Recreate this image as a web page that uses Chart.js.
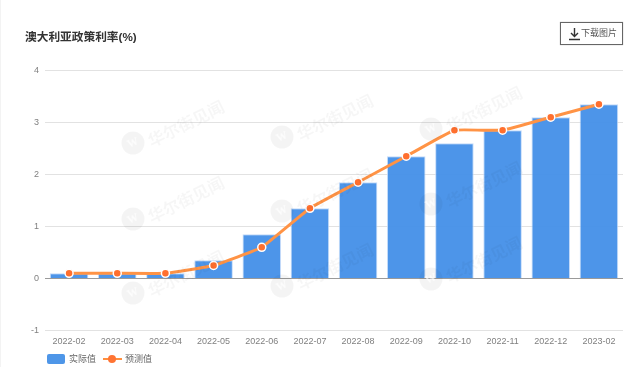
<!DOCTYPE html>
<html><head><meta charset="utf-8">
<script src="https://cdn.jsdelivr.net/npm/chart.js@4"></script>
<style>
html,body{margin:0;padding:0;background:#fff;overflow:hidden}
#wrap{position:relative;width:641px;height:367px;font-family:"Liberation Sans","Noto Sans CJK SC",sans-serif;filter:blur(0.35px)}
#edge{position:absolute;left:0;top:0;width:1px;height:367px;background:#f3f3f3}
canvas{position:absolute;left:0;top:0}
#btn{position:absolute;left:560px;top:22px;width:63px;height:23px;border:1px solid #666;box-sizing:border-box;box-shadow:0 0 1px #aaa;color:#555;font-size:9px;line-height:21px;padding-left:20px;white-space:nowrap}
#btn svg{position:absolute;left:7px;top:4px}
.lg{position:absolute;top:354px;font-size:9px;line-height:11px;color:#666;white-space:nowrap}
#sw1{position:absolute;left:47px;top:354px;width:18px;height:10px;border-radius:2px;background:#4e96e8}
#sw2{position:absolute;left:103px;top:358px;width:19px;height:2px;background:#ff8f3f}
#sw3{position:absolute;left:108px;top:355px;width:8px;height:8px;border-radius:50%;background:#ff7433}
</style></head><body>
<div id="wrap">
<canvas id="c" width="641" height="367"></canvas>
<div id="edge"></div>
<div id="btn"><svg width="13" height="14" viewBox="0 0 13 14"><path d="M6.5 1V9M3 6l3.5 3.5L10 6M1 12.5h11" fill="none" stroke="#333" stroke-width="1.4"/></svg>下载图片</div>
<div id="sw1"></div><div class="lg" style="left:69px">实际值</div>
<div id="sw2"></div><div id="sw3"></div><div class="lg" style="left:125px">预测值</div>
</div>
<script>
const categories=["2022-02","2022-03","2022-04","2022-05","2022-06","2022-07","2022-08","2022-09","2022-10","2022-11","2022-12","2023-02"];
const actualValues=[0.1,0.1,0.1,0.35,0.85,1.35,1.85,2.35,2.6,2.85,3.1,3.35];
const forecastValues=[0.1,0.1,0.1,0.25,0.6,1.35,1.85,2.35,2.85,2.85,3.1,3.35];
const yTicks=[4,3,2,1,0,-1];
const titleText="澳大利亚政策利率(%)";
const watermarkText="华尔街见闻";
const watermarkSpots=[[133,143],[282,137],[431,129],[133,219],[282,211],[431,204],[133,293],[282,286],[431,279]];

const watermark={id:"watermark",afterDatasetsDraw(chart){
  const g=chart.ctx;
  for(const [x,y] of watermarkSpots){
    g.save();
    g.fillStyle="rgba(0,0,0,0.045)";
    g.beginPath();g.arc(x,y,11.5,0,Math.PI*2);g.fill();
    g.fillStyle="rgba(255,255,255,0.7)";
    g.font="bold 11px 'Liberation Serif'";g.textAlign="center";g.textBaseline="middle";
    g.translate(x,y);g.rotate(-0.4);g.fillText("W",0,0);g.restore();
    g.save();
    g.translate(x+16,y-1);g.rotate(-0.46);
    g.fillStyle="rgba(0,0,0,0.035)";
    g.font="bold 16.5px 'Noto Sans CJK SC'";g.textAlign="left";g.textBaseline="middle";
    g.fillText(watermarkText,0,0);g.restore();
  }
}};

new Chart(document.getElementById("c"),{
  data:{labels:categories,datasets:[
    {type:"bar",label:"实际值",data:actualValues,order:2,backgroundColor:"rgba(70,145,232,0.96)",borderColor:"rgba(190,215,248,0.9)",borderWidth:1,categoryPercentage:0.8,barPercentage:1},
    {type:"line",label:"预测值",data:forecastValues,order:1,borderColor:"#ff9345",borderWidth:3,tension:0.1,pointRadius:4,pointBorderWidth:1.5,pointBackgroundColor:"#ff6f2e",pointBorderColor:"#ffffff"}
  ]},
  options:{
    responsive:false,animation:false,
    layout:{padding:{left:25,right:18,top:0,bottom:0}},
    plugins:{
      legend:{display:false},tooltip:{enabled:false},
      title:{display:true,text:titleText,align:"start",color:"#333",font:{family:"'Liberation Sans','Noto Sans CJK SC'",size:11.7,weight:"bold"},padding:{top:31,bottom:25.4}}
    },
    scales:{
      x:{offset:true,grid:{display:false,drawTicks:false},border:{display:false},
        afterFit(s){s.height=36.5},
        ticks:{color:"#808080",font:{family:"'Liberation Sans'",size:9},padding:6,maxRotation:0,autoSkip:false}},
      y:{min:-1,max:4,border:{display:false},
        afterFit(s){s.width=20},
        afterBuildTicks(s){s.ticks=yTicks.map(v=>({value:v}))},
        grid:{drawTicks:false,lineWidth:1,color:c=>c.tick&&c.tick.value===0?"#9a9a9a":"#e2e2e2"},
        ticks:{color:"#808080",font:{family:"'Liberation Sans'",size:9},padding:6}}
    }
  },
  plugins:[watermark]
});
</script>
</body></html>
